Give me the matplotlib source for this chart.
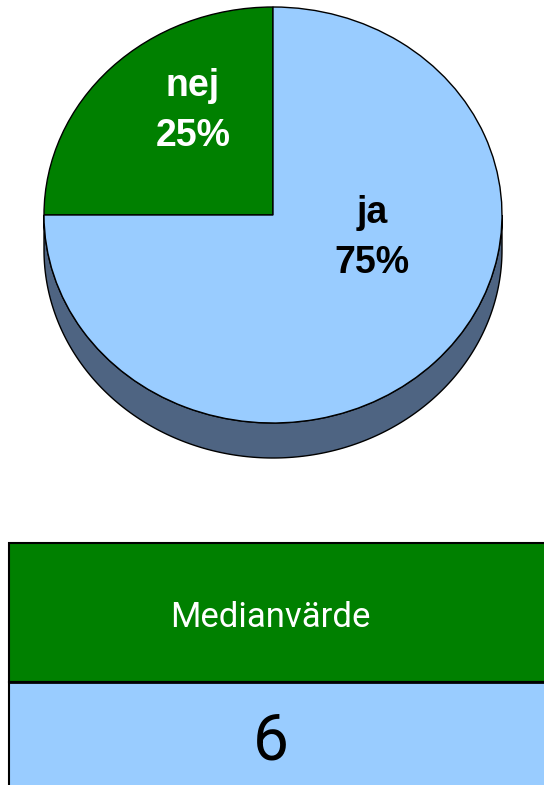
import numpy as np
import matplotlib
matplotlib.use("Agg")
import matplotlib.pyplot as plt
from matplotlib.patches import Wedge, Polygon, Rectangle
from matplotlib.transforms import Affine2D

# pie data
labels = ["nej", "ja"]
shares = [25, 75]
slice_colors = ["#008000", "#99CCFF"]
label_colors = ["white", "black"]
side_color = "#4E6482"

# table data
table_header = "Medianvärde"
table_value = "6"

W, H = 544, 785
fig = plt.figure(figsize=(W / 100, H / 100), dpi=100)
ax = fig.add_axes([0, 0, 1, 1])
ax.set_xlim(0, W)
ax.set_ylim(H, 0)
ax.axis("off")

# pie geometry (pixels)
cx, cy, rx, ry, depth = 273, 215, 229, 208, 35
ell = Affine2D().scale(rx, -ry).translate(cx, cy) + ax.transData

# 3d side (front half)
t = np.linspace(np.pi, 2 * np.pi, 200)
top = np.column_stack([cx + rx * np.cos(t), cy - ry * np.sin(t)])
bot = np.column_stack([cx + rx * np.cos(t[::-1]), cy - ry * np.sin(t[::-1]) + depth])
ax.add_patch(Polygon(np.vstack([top, bot]), closed=True, facecolor=side_color,
                     edgecolor="black", lw=1.0))

# top face
start = 90.0
total = sum(shares)
for lab, val, col in zip(labels, shares, slice_colors):
    span = 360.0 * val / total
    ax.add_patch(Wedge((0, 0), 1, start, start + span, facecolor=col,
                       edgecolor="black", lw=1.0, transform=ell))
    start += span

# slice labels
label_pos = {"nej": (193, 96), "ja": (372, 223)}
for lab, val, tc in zip(labels, shares, label_colors):
    x, y = label_pos[lab]
    ax.text(x, y, lab, ha="center", va="baseline", fontsize=27, fontweight="bold",
            color=tc, family=["Liberation Sans", "DejaVu Sans"])
    ax.text(x, y + 50, f"{val}%", ha="center", va="baseline", fontsize=27,
            fontweight="bold", color=tc, family=["Liberation Sans", "DejaVu Sans"])

# table
ax.add_patch(Rectangle((9, 543), 560, 139, facecolor="#008000", edgecolor="black", lw=1.5))
ax.add_patch(Rectangle((9, 682), 560, 120, facecolor="#99CCFF", edgecolor="black", lw=1.5))
ax.plot([9, W], [682, 682], color="black", lw=2)
ax.text(270, 627, table_header, ha="center", va="baseline", fontsize=25, color="white",
        family=["Roboto", "Liberation Sans", "DejaVu Sans"])
ax.text(271, 759, table_value, ha="center", va="baseline", fontsize=46, color="black",
        fontweight="normal", family=["Roboto", "Liberation Sans", "DejaVu Sans"])

fig.savefig("out.png", dpi=100)
